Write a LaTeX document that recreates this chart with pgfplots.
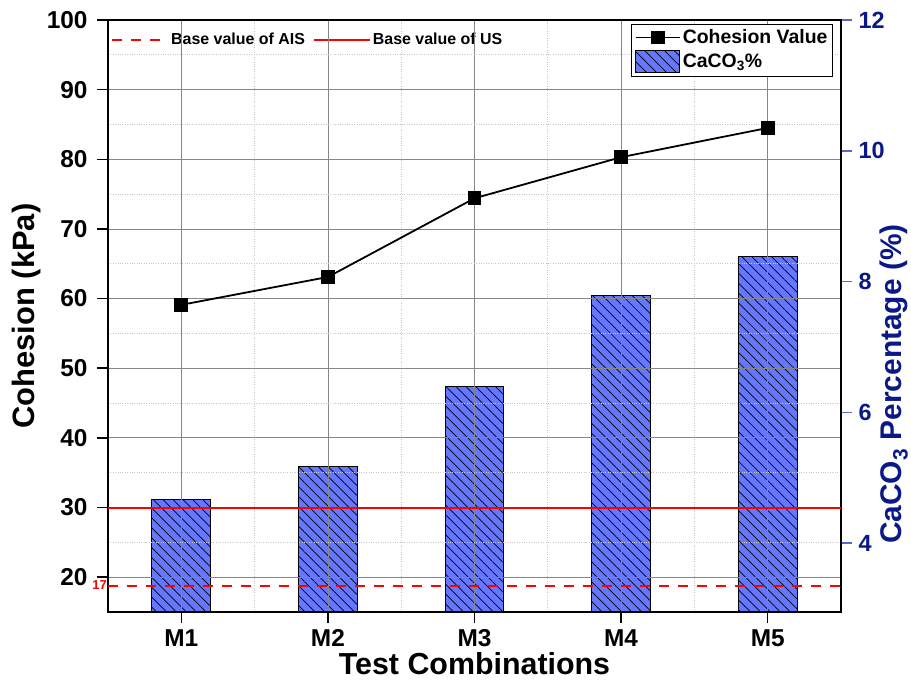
\documentclass[border=0pt]{standalone}
\usepackage{fontspec}
\setmainfont{Liberation Sans}
\usepackage{pgfplots}
\pgfplotsset{compat=1.18}
\usetikzlibrary{patterns.meta}
\definecolor{navy}{RGB}{10,25,135}
\definecolor{raxis}{RGB}{90,105,200}
\definecolor{barblue}{RGB}{102,119,255}
\definecolor{majgrid}{RGB}{135,135,135}
\definecolor{mingrid}{RGB}{200,200,200}
\pgfplotsset{
  layers/mine/.define layer set={axis background, axis grid, pre main, main, axis ticks, axis lines, axis tick labels, axis descriptions, axis foreground}{},
  lineleg/.style={legend image code/.code={\draw[mark repeat=2,mark phase=2,##1] plot coordinates {(0bp,0bp) (22bp,0bp) (44bp,0bp)};}},
  barleg/.style={legend image code/.code={\draw[##1] (0bp,-11bp) rectangle (44bp,11bp);}},
}
\begin{document}
\begin{tikzpicture}
% right axis: bars
\begin{axis}[
  set layers=mine,
  width=733bp, height=592bp, scale only axis,
  xmin=0.5, xmax=5.5, ymin=2.945, ymax=12,
  axis y line*=right, axis x line=none,
  ytick={4,6,8,10,12},
  tick align=outside, major tick length=11bp,
  y axis line style={raxis, line width=1.8bp},
  ytick style={raxis, line width=1.5bp},
  yticklabel style={navy, font=\fontsize{23.5}{27}\selectfont\bfseries, xshift=3bp},
  /pgf/number format/assume math mode=true,
  ylabel={CaCO\textsubscript{3} Percentage (\%)},
  every axis y label/.style={at={(axis description cs:1.072,0.385)}, rotate=90, anchor=center, navy, font=\fontsize{30}{34}\selectfont\bfseries},
  legend style={at={(axis description cs:0,0.985)}, anchor=north west, draw=none, fill=none,
    font=\fontsize{16}{19}\selectfont\bfseries, /tikz/every even column/.append style={column sep=6bp}},
  legend columns=2,
  legend image code/.code={\draw[#1] (0bp,0bp) -- (56bp,0bp);},
]
\addplot[ybar, forget plot, bar width=0.4, bar shift=0pt, fill=barblue, draw=black, line width=1bp,
  postaction={pattern={Lines[angle=-45,distance=7bp,line width=0.7bp]}}]
  coordinates {(1,4.67) (2,5.17) (3,6.39) (4,7.78) (5,8.38)};
\addlegendimage{red, line width=2bp, dash pattern=on 10bp off 9bp}
\addlegendentry{Base value of AIS}
\addlegendimage{red, line width=2bp}
\addlegendentry{Base value of US}
\end{axis}
% left axis: cohesion
\begin{axis}[
  set layers=mine,
  width=733bp, height=592bp, scale only axis,
  clip=false,
  xmin=0.5, xmax=5.5, ymin=15, ymax=100,
  xtick={1,2,3,4,5}, xticklabels={M1,M2,M3,M4,M5},
  ytick={20,30,...,100},
  minor xtick={1.5,2.5,3.5,4.5}, minor ytick={25,35,...,95},
  grid=both,
  major grid style={majgrid, line width=0.8bp},
  minor grid style={mingrid, dotted, line width=0.9bp},
  tick align=outside, xtick pos=bottom, ytick pos=left,
  major tick length=11bp, minor tick length=0pt,
  tick style={black, line width=1.5bp},
  axis line style={black, line width=1.8bp},
  ticklabel style={font=\fontsize{24.5}{28}\selectfont\bfseries},
  yticklabel style={xshift=-6bp},
  xticklabel style={yshift=-3bp},
  /pgf/number format/assume math mode=true,
  xlabel={Test Combinations}, ylabel={Cohesion (kPa)},
  every axis x label/.style={at={(axis description cs:0.5,0)}, anchor=base, yshift=-62bp, font=\fontsize{30.5}{34}\selectfont\bfseries},
  every axis y label/.style={at={(axis description cs:-0.1105,0.5)}, rotate=90, anchor=center, font=\fontsize{31}{35}\selectfont\bfseries},
  legend style={at={(axis description cs:0.989,0.993)}, anchor=north east, draw=black, line width=1bp, fill=white,
    font=\fontsize{19.5}{23}\selectfont\bfseries, inner sep=3bp, row sep=3bp},
  legend cell align=left,
]
\addplot[black, line width=1.8bp, mark=square*, mark size=6bp, mark options={solid, fill=black}, lineleg]
  coordinates {(1,59.1) (2,63.1) (3,74.4) (4,80.3) (5,84.5)};
\addlegendentry{Cohesion Value}
\addlegendimage{fill=barblue, draw=black, line width=1bp,
  postaction={pattern={Lines[angle=-45,distance=7bp,line width=0.7bp]}}, barleg}
\addlegendentry{CaCO\textsubscript{3}\%}
\addplot[red, line width=2bp, forget plot] coordinates {(0.5,30) (5.5,30)};
\addplot[red, line width=2bp, dash pattern=on 10bp off 9bp, forget plot] coordinates {(0.5,18.8) (5.5,18.8)};
\node[red, anchor=east, inner sep=1bp, font=\fontsize{13}{15}\selectfont\bfseries] at (axis cs:0.5,18.8) {17};
\end{axis}
\pgfresetboundingbox
\path (-108bp,-71bp) rectangle (803bp,612bp);
\end{tikzpicture}
\end{document}
